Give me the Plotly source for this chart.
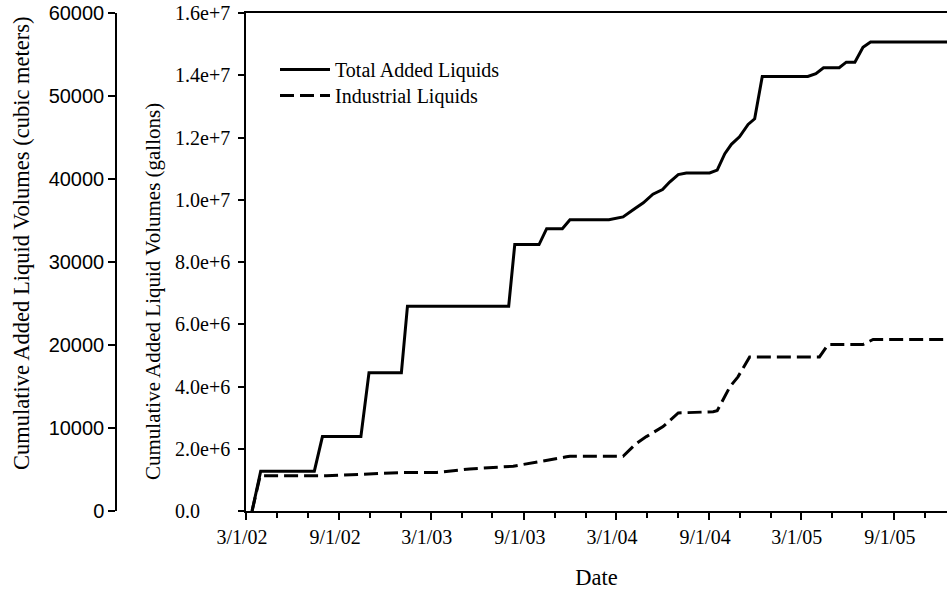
import plotly.graph_objects as go

# ---- data ----
total_dates = [
    "2002-03-13", "2002-03-30", "2002-07-14", "2002-07-30", "2002-10-14", "2002-10-30",
    "2003-01-02", "2003-01-14", "2003-08-02", "2003-08-14", "2003-10-01", "2003-10-16",
    "2003-11-16", "2003-12-01", "2004-02-16", "2004-03-15", "2004-04-04", "2004-04-24",
    "2004-05-13", "2004-06-01", "2004-06-15", "2004-07-02", "2004-07-18", "2004-09-02",
    "2004-09-17", "2004-10-02", "2004-10-15", "2004-10-31", "2004-11-17", "2004-11-30",
    "2004-12-15", "2005-03-15", "2005-03-31", "2005-04-15", "2005-05-16", "2005-05-30",
    "2005-06-16", "2005-07-02", "2005-07-17", "2005-12-31",
]
total_gallons = [
    0, 1.28e6, 1.28e6, 2.39e6, 2.39e6, 4.44e6,
    4.44e6, 6.58e6, 6.58e6, 8.56e6, 8.56e6, 9.07e6,
    9.07e6, 9.36e6, 9.36e6, 9.45e6, 9.68e6, 9.90e6,
    10.18e6, 10.33e6, 10.57e6, 10.81e6, 10.86e6, 10.86e6,
    10.95e6, 11.48e6, 11.78e6, 12.02e6, 12.42e6, 12.60e6,
    13.96e6, 13.96e6, 14.05e6, 14.24e6, 14.24e6, 14.42e6,
    14.42e6, 14.90e6, 15.07e6, 15.07e6,
]

industrial_dates = [
    "2002-03-13", "2002-03-29", "2002-08-07", "2002-11-01", "2003-01-06", "2003-03-13",
    "2003-05-17", "2003-08-11", "2003-08-24", "2003-11-24", "2003-12-01", "2004-03-15",
    "2004-04-10", "2004-04-30", "2004-06-02", "2004-07-02", "2004-09-09", "2004-09-17",
    "2004-10-12", "2004-10-28", "2004-11-20", "2005-04-07", "2005-04-24", "2005-07-02",
    "2005-07-22", "2005-12-31",
]
industrial_gallons = [
    0, 1.13e6, 1.13e6, 1.19e6, 1.24e6, 1.24e6,
    1.35e6, 1.44e6, 1.48e6, 1.74e6, 1.76e6, 1.76e6,
    2.17e6, 2.39e6, 2.71e6, 3.15e6, 3.19e6, 3.22e6,
    3.99e6, 4.31e6, 4.95e6, 4.95e6, 5.35e6, 5.35e6,
    5.51e6, 5.51e6,
]

x_tick_vals = ["2002-03-01", "2002-09-01", "2003-03-01", "2003-09-01",
               "2004-03-01", "2004-09-01", "2005-03-01", "2005-09-01"]
x_tick_text = ["3/1/02", "9/1/02", "3/1/03", "9/1/03", "3/1/04", "9/1/04", "3/1/05", "9/1/05"]

gal_tick_vals = [0, 2e6, 4e6, 6e6, 8e6, 1e7, 1.2e7, 1.4e7, 1.6e7]
gal_tick_text = ["0.0", "2.0e+6", "4.0e+6", "6.0e+6", "8.0e+6", "1.0e+7", "1.2e+7", "1.4e+7", "1.6e+7"]

m3_tick_vals = [0, 10000, 20000, 30000, 40000, 50000, 60000]
m3_tick_text = ["0", "10000", "20000", "30000", "40000", "50000", "60000"]

title_gallons = "Cumulative Added Liquid Volumes (gallons)"
title_m3 = "Cumulative Added Liquid Volumes (cubic meters)"
title_x = "Date"

# ---- styling ----
SERIF = "Liberation Serif, Times New Roman, serif"
SANS = "Liberation Sans, Arial, sans-serif"
W, H = 947, 594
ML, MR, MT, MB = 100, 0, 13, 83
PW = W - ML - MR
PH = H - MT - MB


def px_x(px):
    return (px - ML) / PW


def px_y(py):
    return 1 - (py - MT) / PH


fig = go.Figure()
fig.add_trace(go.Scatter(
    x=total_dates, y=total_gallons, mode="lines", name="Total Added Liquids",
    line=dict(color="black", width=3), legend="legend",
))
fig.add_trace(go.Scatter(
    x=industrial_dates, y=industrial_gallons, mode="lines", name="Industrial Liquids",
    line=dict(color="black", width=3, dash="14px,6px"), legend="legend2",
))
# anchor trace so the cubic-meter axis is drawn
fig.add_trace(go.Scatter(
    x=[x_tick_vals[0]], y=[None], yaxis="y2", mode="lines",
    showlegend=False, hoverinfo="skip",
))

axis_common = dict(
    showgrid=False, zeroline=False, showline=True, linecolor="black", linewidth=1.5,
    ticks="outside", tickcolor="black", tickwidth=1.5, automargin=False,
)

annotations = [
    dict(x=px_x(173), xref="paper", y=v, yref="y", text=t, showarrow=False,
         xanchor="left", yanchor="middle", font=dict(family=SERIF, size=20, color="black"))
    for v, t in zip(gal_tick_vals, gal_tick_text)
]
annotations.append(dict(
    x=px_x(153), xref="paper", y=px_y(292), yref="paper", text=title_gallons,
    textangle=-90, showarrow=False, xanchor="center", yanchor="middle",
    font=dict(family=SERIF, size=21, color="black"),
))
annotations.append(dict(
    x=px_x(21), xref="paper", y=px_y(244), yref="paper", text=title_m3,
    textangle=-90, showarrow=False, xanchor="center", yanchor="middle",
    font=dict(family=SERIF, size=22.5, color="black"),
))

legend_common = dict(
    xanchor="left", yanchor="top", bgcolor="rgba(0,0,0,0)",
    font=dict(family=SERIF, size=20, color="black"), itemwidth=50,
)

fig.update_layout(
    width=W, height=H,
    margin=dict(l=ML, r=MR, t=MT, b=MB),
    paper_bgcolor="white", plot_bgcolor="white",
    font=dict(family=SERIF, size=20, color="black"),
    showlegend=True,
    legend=dict(**legend_common, x=px_x(275), y=px_y(50)),
    legend2=dict(**legend_common, x=px_x(275), y=px_y(76)),
    xaxis=dict(
        **axis_common,
        domain=[px_x(246), 1], type="date", range=["2002-03-01", "2005-12-15"],
        tickmode="array", tickvals=x_tick_vals, ticktext=x_tick_text, ticklen=7,
        tickfont=dict(family=SERIF, size=20, color="black"), ticklabelshift=-4,
        mirror=True,
        minor=dict(dtick="M2", tick0="2002-01-01", ticks="outside", ticklen=5,
                   tickcolor="black", tickwidth=1.5, showgrid=False),
        title=dict(text=title_x, font=dict(family=SERIF, size=22.5, color="black"), standoff=22),
    ),
    yaxis=dict(
        **axis_common,
        range=[0, 1.6e7], tickmode="array", tickvals=gal_tick_vals, ticktext=gal_tick_text,
        showticklabels=False, ticklen=6,
    ),
    yaxis2=dict(
        **axis_common,
        overlaying="y", anchor="free", position=px_x(116), side="left",
        range=[0, 60000], tickmode="array", tickvals=m3_tick_vals, ticktext=m3_tick_text,
        ticklen=7, tickfont=dict(family=SANS, size=20, color="black"),
    ),
    annotations=annotations,
)

fig.write_html("out.html", config={"displayModeBar": False},
               post_script="document.body.style.margin='0';")
